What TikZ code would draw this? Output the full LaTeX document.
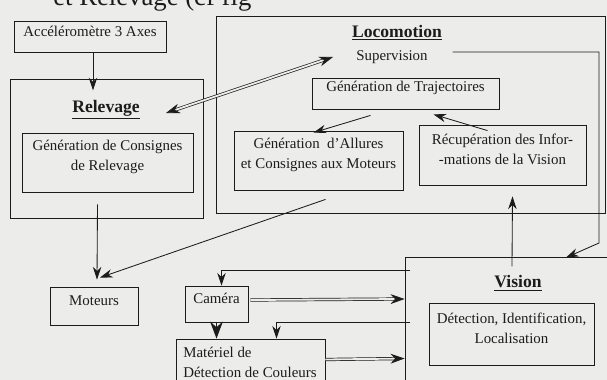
\documentclass[tikz,border=0pt]{standalone}
\usepackage{fontspec}
\setmainfont{Liberation Serif}
\usepackage{xcolor}
\usepackage{tikz}
\usetikzlibrary{arrows.meta,fit,calc}
\definecolor{scan}{HTML}{ECECEA}
\definecolor{ink}{HTML}{1C1C1C}
\newcommand{\bodyfont}{\fontsize{10.6}{14.2}\selectfont}
\newcommand{\titlefont}{\fontsize{12.5}{15}\selectfont\bfseries}
\newcommand{\capfont}{\fontsize{19}{22}\selectfont}

\begin{document}
\begin{tikzpicture}[x=0.025cm,y=-0.025cm,
  every node/.style={text=ink,font=\bodyfont},
  box/.style={draw=ink,line width=0.6pt,inner sep=0pt,align=center},
  frame/.style={draw=ink,line width=0.6pt,inner sep=0pt},
  title/.style={font=\titlefont},
  arr/.style={draw=ink,line width=0.6pt,-{Stealth[length=9pt,width=6pt]}},
  bigarr/.style={draw=ink,line width=1.2pt,-{Stealth[length=12pt,width=9pt]}},
  dbl/.style={draw=ink,double=scan,double distance=1.3pt,line width=0.5pt,-{Stealth[length=10pt,width=7pt]}},
  dbldbl/.style={dbl,{Stealth[length=10pt,width=7pt]}-{Stealth[length=10pt,width=7pt]}}]
  \useasboundingbox (0,0) rectangle (607,380);
  \clip (0,0) rectangle (607,380);
  \fill[scan] (0,0) rectangle (607,380);

  % cut-off caption of the page
  \node[anchor=base west,font=\capfont,inner sep=0pt] (cap) at (53,6) {et Relevage (cf fig};

  % Relevage
  \node[box,fit={(14,21) (166,52)}] (accel) {Accéléromètre 3 Axes};
  \node[frame,fit={(10,79) (203,218)}] (relev) {};
  \node[title] (relevT) at (106,110) {\underline{Relevage}};
  \node[box,fit={(22,133) (193,192)}] (relevin) {Génération de Consignes\\de Relevage};

  % Locomotion
  \node[frame,fit={(216,16) (605,213)}] (loco) {};
  \node[title] (locoT) at (397,33) {\underline{Locomotion}};
  \node (superv) at (392,57) {Supervision};
  \node[box,fit={(312,78) (499,109)}] (traj) {Génération de Trajectoires};
  \node[box,fit={(234,131) (403,190)}] (allures) {Génération~ d'Allures\\et Consignes aux Moteurs};
  \node[box,fit={(419,125) (586,185)}] (recup) {Récupération des Infor-\\-mations de la Vision};

  % Vision
  \node[frame,fit={(405,257) (650,420)}] (vision) {};
  \node[title] (visionT) at (518,283) {\underline{Vision}};
  \node[box,fit={(429,303) (594,365)}] (detect) {Détection, Identification,\\Localisation};

  % materiel
  \node[box,fit={(50,287) (138,325)}] (moteurs) {Moteurs};
  \node[box,fit={(185,286) (248,322)}] (camera) {Caméra};
  \node[frame,fit={(176,339) (325,400)}] (materiel) {};
  \node[anchor=north west,align=left,inner sep=0pt] (materielT) at (183,347) {Matériel de\\Détection de Couleurs};

  \coordinate (rv) at (166,113);
  \coordinate (sv) at (333,57);
  \coordinate (v1) at (410,270);
  \coordinate (v2) at (410,322);
  \coordinate (supcorner) at (599,243);

  \draw[arr] (accel.south) ++(3,0) -- ++(0,38);
  \draw[dbldbl] (rv) -- (sv);
  \draw[arr] ($(traj.south)+(-35,6)$) -- ($(allures.north)+(-5,2)$);
  \draw[arr] ($(recup.north)+(-15,6)$) -- ($(traj.south)+(28,5)$);
  \draw[arr] ($(superv.east)+(20,-5)$) -| (supcorner) -- ($(vision.north east)!0.5!(vision.north)+(-23,1)$);
  \draw[arr] ($(relevin.south)+(-10,12)$) -- ($(moteurs.north)+(3,-7)$);
  \draw[arr] ($(allures.south)+(7,9)$) -- ($(moteurs.north)+(6,-9)$);
  \draw[arr] ($(visionT.north)+(-6,-4)$) -- ($(recup.south)+(10,11)$);
  \draw[arr] (v1) -| ($(camera.north)+(5,0)$);
  \draw[arr] (v2) -| ($(materiel.north)+(26,0)$);
  \draw[bigarr] (camera.south) -- (camera.south |- materiel.north);
  \draw[dbl] ($(camera.east)+(2,-4)$) -- ($(camera.east -| vision.west)+(0,-5)$);
  \draw[dbl] ($(materiel.east |- materielT.east)+(0,-3)$) -- ($(materiel.east -| vision.west)+(0,-11)$);
\end{tikzpicture}
\end{document}
